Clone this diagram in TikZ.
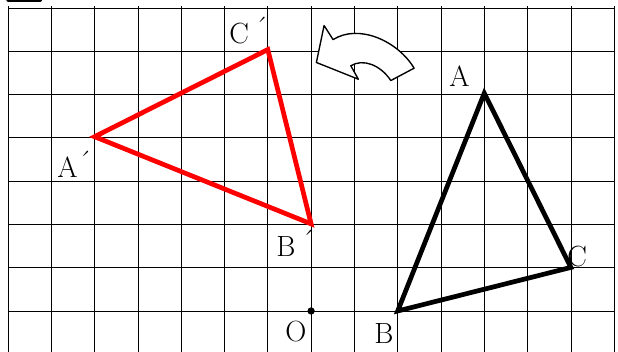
\documentclass[tikz,border=0pt]{standalone}
\usepackage{tikz}
\usetikzlibrary{calc}

\newcommand{\acc}{\raisebox{0.2em}{\'{}}}

\begin{document}
\begin{tikzpicture}[
  y=1.00625cm,
  gridline/.style={black, line width=0.5pt},
  tri/.style={line width=3.1pt},
  lbl/.style={anchor=base west, inner sep=0pt, font=\fontsize{19.2}{23}\selectfont},
  turn/.style={draw=black, fill=white, line width=0.9pt, line join=round}
]
\useasboundingbox (-7.185,-0.941) rectangle (7.088,7.138);
\clip (-7.185,-0.941) rectangle (7.088,7.138);

% grid
\draw[gridline] (-7,-1.5) grid (7,7);
\draw[line width=2.2pt, line cap=round] (-7.0,7.12) -- (-6.25,7.12);

% points
\coordinate (O) at (0,0);
\coordinate (A) at (4,5);
\coordinate (B) at (2,0);
\coordinate (C) at (6,1);
\coordinate (A') at (-5,4);
\coordinate (B') at (0,2);
\coordinate (C') at (-1,6);

% triangles
\draw[tri, red] (A') -- (B') -- (C') -- cycle;
\draw[tri, black] (A) -- (B) -- (C) -- cycle;
\fill (O) circle (2.4pt);

% turning arrow
\draw[turn] (0.300,6.552) -- (0.508,6.229)
  .. controls (1.1,6.6) and (2.0,6.2) .. (2.379,5.573)
  -- (1.841,5.289)
  .. controls (1.6,5.65) and (1.2,5.8) .. (0.917,5.628)
  -- (1.092,5.319) -- (0.122,5.704) -- cycle;

% labels
\node[lbl] (labA) at (3.187,5.150) {A};
\node[lbl] (labB) at (1.455,-0.739) {B};
\node[lbl] (labC) at (5.912,1.016) {C};
\node[lbl] (labO) at (-0.600,-0.690) {O};
\node[lbl] (labA') at (-5.866,3.072) {A\kern0.02em\acc};
\node[lbl] (labB') at (-0.808,1.247) {B\kern0.2em\acc};
\node[lbl] (labC') at (-1.894,6.143) {C\kern0.2em\acc};

\end{tikzpicture}
\end{document}
